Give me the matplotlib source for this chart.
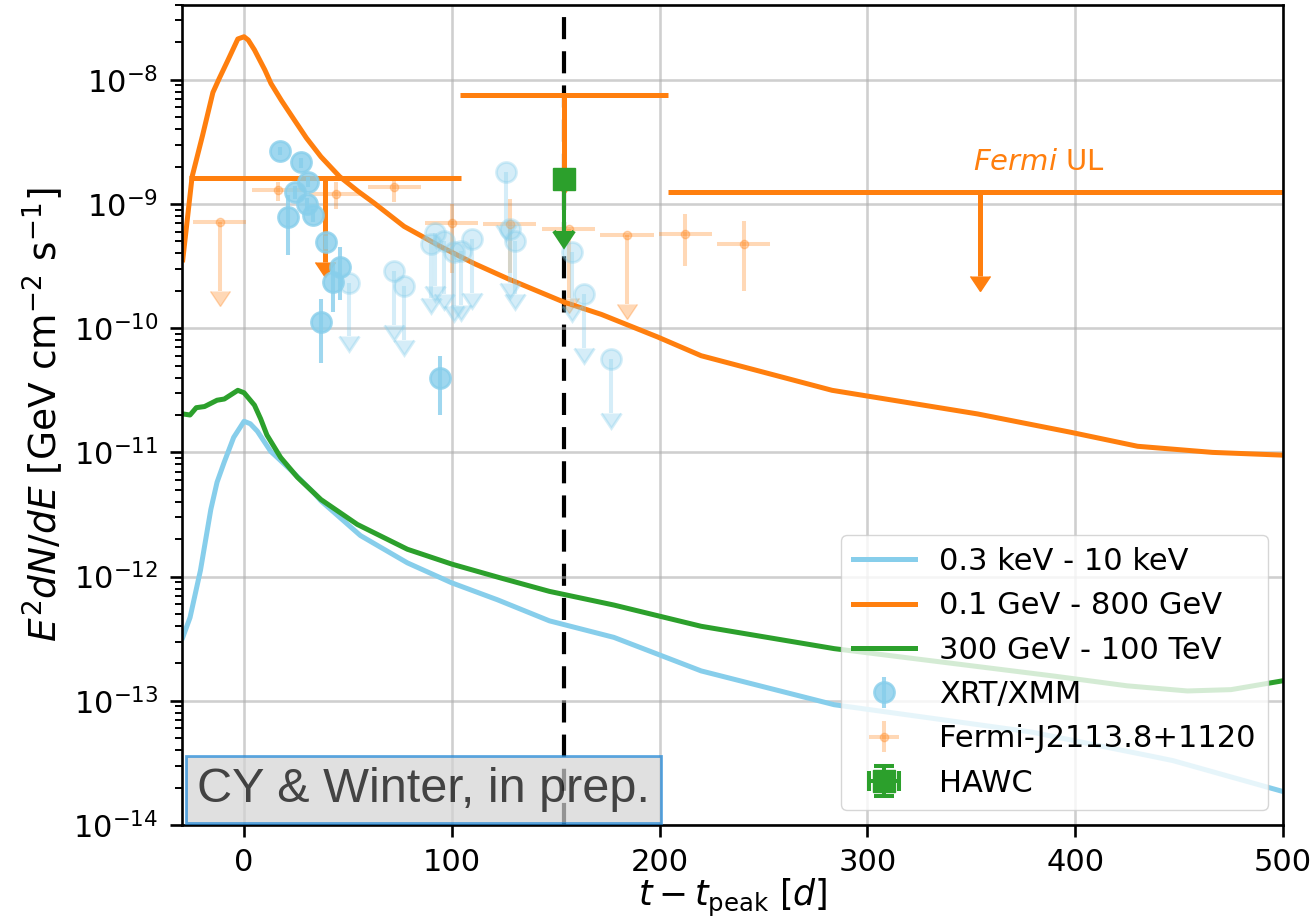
import numpy as np
import matplotlib
matplotlib.use("Agg")
import matplotlib.pyplot as plt

# model light curves
t_xray = [-29.5, -26, -21, -16, -13, -9.6, -5, 0, 3, 6.4, 12.8, 22.5, 33.7, 37, 56, 78.6,
          100, 122, 147, 178, 220, 284, 379, 436, 447, 500]
f_xray = [3.24e-13, 4.68e-13, 1.12e-12, 3.47e-12, 5.75e-12, 8.3e-12, 1.32e-11, 1.78e-11,
          1.70e-11, 1.48e-11, 1.02e-11, 7.2e-12, 4.7e-12, 4.07e-12, 2.14e-12, 1.29e-12,
          8.9e-13, 6.5e-13, 4.4e-13, 3.24e-13, 1.74e-13, 9.3e-14, 5.6e-14, 3.6e-14, 3.3e-14,
          1.86e-14]

t_gev = [-29.5, -25, -20, -15, -12, -8, -3, 0, 2, 5, 10, 13, 18, 24, 30, 37, 46, 55, 62.5,
         77, 95, 111, 127, 154, 172, 199, 220, 283, 353, 398, 430, 466, 500]
f_gev = [3.55e-10, 1.66e-9, 3.55e-9, 7.9e-9, 1.02e-8, 1.41e-8, 2.13e-8, 2.22e-8, 2.09e-8,
         1.74e-8, 1.20e-8, 9.3e-9, 6.8e-9, 4.8e-9, 3.4e-9, 2.4e-9, 1.66e-9, 1.26e-9, 1.02e-9,
         6.6e-10, 4.5e-10, 3.3e-10, 2.5e-10, 1.62e-10, 1.29e-10, 8.5e-11, 6.0e-11, 3.16e-11,
         2.04e-11, 1.45e-11, 1.12e-11, 1.0e-11, 9.5e-12]

t_tev = [-29.5, -26, -23, -19, -13, -9.5, -3, 0, 5, 8, 11, 17.6, 25.7, 37, 54.5, 78.6, 100,
         123, 147, 178, 200, 220, 284, 390, 425, 454, 475, 500]
f_tev = [2.04e-11, 2.0e-11, 2.29e-11, 2.34e-11, 2.63e-11, 2.69e-11, 3.16e-11, 3.02e-11,
         2.4e-11, 1.86e-11, 1.38e-11, 9.1e-12, 6.3e-12, 4.17e-12, 2.63e-12, 1.66e-12, 1.26e-12,
         9.8e-13, 7.6e-13, 5.9e-13, 4.8e-13, 3.98e-13, 2.63e-13, 1.58e-13, 1.32e-13, 1.2e-13,
         1.23e-13, 1.45e-13]

# XRT/XMM detections and upper limits
xrt_t = [17.3, 27.6, 30.8, 24.4, 30.2, 33.4, 21.2, 39.6, 46.0, 43.0, 37.2, 94.3]
xrt_f = [2.68e-9, 2.16e-9, 1.51e-9, 1.25e-9, 9.96e-10, 8.1e-10, 7.9e-10, 4.9e-10, 3.08e-10,
         2.35e-10, 1.12e-10, 4.0e-11]
xrt_err = [2.0e-10, 2.0e-10, 1.5e-10, 1.5e-10, 1.2e-10, 1.0e-10, 4.0e-10, 6e-11, 1.4e-10,
           1.0e-10, 6e-11, 2e-11]
xrt_ul_t = [50.5, 72.1, 77.0, 89.8, 91.8, 96.2, 101.0, 104.2, 109.8, 126.2, 128.2, 130.6,
            157.9, 163.8, 176.6]
xrt_ul_f = [2.33e-10, 2.89e-10, 2.19e-10, 4.74e-10, 5.89e-10, 5.05e-10, 4.07e-10, 4.19e-10,
            5.2e-10, 1.82e-9, 6.27e-10, 5.05e-10, 4.07e-10, 1.87e-10, 5.6e-11]

# Fermi source points
fermi_t = [16.4, 44.1, 72.3, 99.9, 127.9, 212.4, 240.4]
fermi_f = [1.29e-9, 1.2e-9, 1.37e-9, 7.0e-10, 6.87e-10, 5.78e-10, 4.74e-10]
fermi_lo = [2.3e-10, 2.9e-10, 3.4e-10, 4.2e-10, 4.07e-10, 2.6e-10, 2.74e-10]
fermi_hi = [2.0e-10, 3.0e-10, 3.1e-10, 3.0e-10, 4.07e-10, 2.5e-10, 2.56e-10]
fermi_ul_t = [-11.7, 156.3, 184.3]
fermi_ul_f = [7.1e-10, 6.27e-10, 5.64e-10]
fermi_dt = 12.8

# Fermi UL bands
lat_ul_t = [38.9, 154.0, 354.0]
lat_ul_f = [1.61e-9, 7.53e-9, 1.25e-9]
lat_ul_dt = [65.3, 50.2, 150.0]

# HAWC
hawc_t = [154.0]
hawc_f = [1.58e-9]
hawc_dt = [3.0]

t_hawc_line = 154.0

plt.rcParams.update({
    'font.size': 22,
    'lines.markersize': 14,
    'axes.linewidth': 1.9,
    'xtick.major.size': 8.4, 'xtick.major.width': 1.9, 'xtick.major.pad': 8.4,
    'ytick.major.size': 8.4, 'ytick.major.width': 1.9, 'ytick.major.pad': 8.4,
    'xtick.minor.size': 4.8, 'xtick.minor.width': 1.4,
    'ytick.minor.size': 4.8, 'ytick.minor.width': 1.4,
})

fig = plt.figure(figsize=(13.14, 9.22), dpi=100)
ax = fig.add_axes([0.1383, 0.1052, 0.8381, 0.8894])

lw = 3.6
ax.plot(t_xray, f_xray, color='skyblue', lw=lw, label='0.3 keV - 10 keV')
ax.plot(t_gev, f_gev, color='C1', lw=lw, label='0.1 GeV - 800 GeV')
ax.plot(t_tev, f_tev, color='C2', lw=lw, label='300 GeV - 100 TeV')

ax.axvline(t_hawc_line, color='k', lw=3, ls=(0, (5.3, 2.9)), zorder=1.5)

ul_frac = 0.79
ax.errorbar(lat_ul_t, lat_ul_f, xerr=lat_ul_dt, yerr=np.array(lat_ul_f) * ul_frac,
            uplims=True, fmt='none', color='C1', elinewidth=lw, zorder=2.2)

ax.errorbar(xrt_t, xrt_f, yerr=xrt_err, fmt='o', ms=14.4, mew=2, color='skyblue',
            elinewidth=2.9, alpha=0.8, label='XRT/XMM', zorder=2.5)
ax.errorbar(xrt_ul_t, xrt_ul_f, yerr=np.array(xrt_ul_f) * 0.63, uplims=True, fmt='o',
            ms=14.4, mew=2, color='skyblue', elinewidth=2.9, alpha=0.35, zorder=2.4)

ax.errorbar(fermi_t, fermi_f, xerr=fermi_dt, yerr=[fermi_lo, fermi_hi], fmt='o', ms=6,
            color='C1', elinewidth=2.9, alpha=0.3, label='Fermi-J2113.8+1120', zorder=2.3)
ax.errorbar(fermi_ul_t, fermi_ul_f, xerr=fermi_dt, yerr=np.array(fermi_ul_f) * 0.72,
            uplims=True, fmt='o', ms=6, color='C1', elinewidth=2.9, alpha=0.3, zorder=2.3)

ax.errorbar(hawc_t, hawc_f, xerr=hawc_dt, yerr=np.array(hawc_f) * 0.62, uplims=True,
            fmt='s', ms=15.6, color='C2', elinewidth=2.9, capsize=7, capthick=2.9,
            label='HAWC', zorder=2.6)

ax.text(382.5, 2.17e-9, r'$\it{Fermi}$ UL', color='C1', fontsize=21, ha='center',
        va='center')

ax.text(0.014, 0.016, 'CY & Winter, in prep.', transform=ax.transAxes,
        fontsize=35, family='Liberation Sans', color='black', alpha=0.7,
        ha='left', va='bottom', zorder=5,
        bbox=dict(boxstyle='square,pad=0.22', fc='lightgray', ec='#1a84d6', lw=2,
                  alpha=0.7))

ax.set_yscale('log')
ax.set_xlim(-30, 500)
ax.set_ylim(1e-14, 4e-8)
ax.grid(True, which='major', color='#b0b0b0', alpha=0.6, lw=1.9)
ax.set_xlabel(r'$t - t_{\rm peak}$ [$d$]', fontsize=25, labelpad=0)
ax.set_ylabel(r'$E^2dN/dE$ [GeV cm$^{-2}$ s$^{-1}$]', fontsize=27, labelpad=6)

ax.legend(loc='lower right', fontsize=22, borderaxespad=0.5)

fig.savefig('out.png', dpi=100)
